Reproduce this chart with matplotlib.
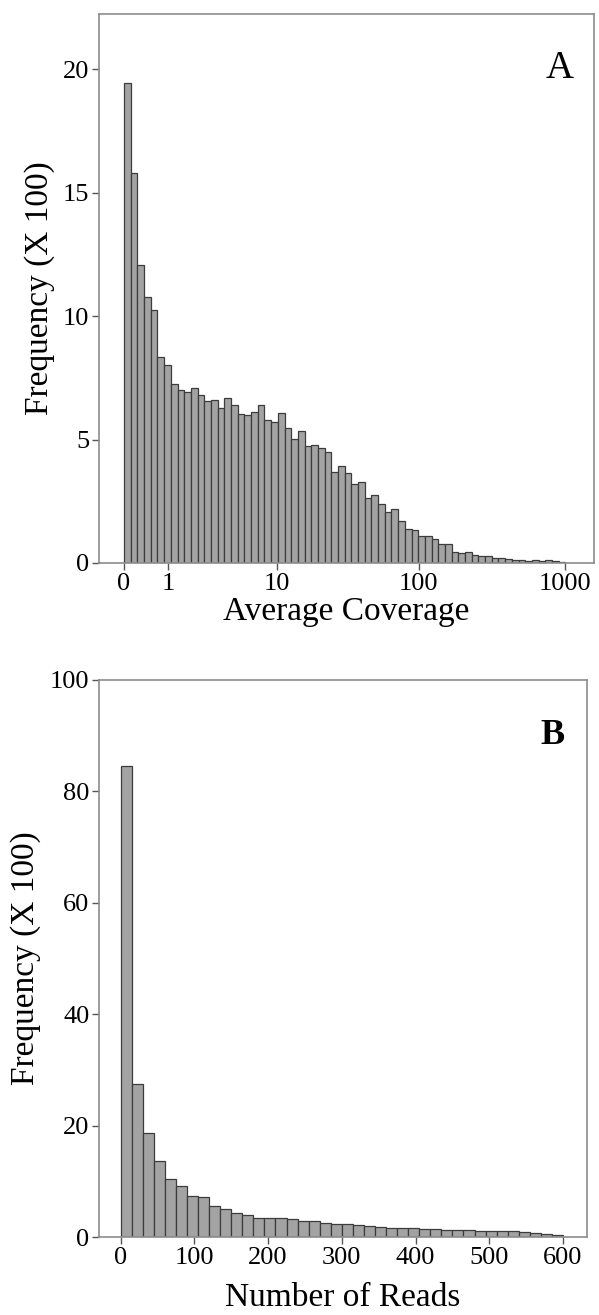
import numpy as np
import matplotlib.pyplot as plt

plt.rcParams['font.family'] = ['Liberation Serif', 'DejaVu Serif']

# Panel A: histogram of average coverage, bins equal in log10(coverage + 1)
cov_bin_width = 3.0 / 66
cov_freq = [19.44, 15.82, 12.08, 10.77, 10.26, 8.34, 8.03, 7.26, 7.01, 6.93,
            7.09, 6.81, 6.57, 6.61, 6.30, 6.68, 6.40, 6.04, 6.00, 6.13,
            6.40, 5.80, 5.73, 6.07, 5.46, 5.01, 5.36, 4.72, 4.78, 4.65,
            4.49, 3.70, 3.94, 3.66, 3.19, 3.30, 2.65, 2.76, 2.39, 2.08,
            2.18, 1.68, 1.38, 1.34, 1.09, 1.11, 0.96, 0.77, 0.76, 0.43,
            0.42, 0.43, 0.32, 0.30, 0.27, 0.22, 0.19, 0.15, 0.12, 0.10,
            0.09, 0.10, 0.09, 0.11, 0.07, 0.03]
cov_ticks = [0, 1, 10, 100, 1000]
cov_ticklabels = ["0", "1", "10", "100", "1000"]

# Panel B: histogram of number of reads
reads_bin_width = 15
reads_freq = [84.6, 27.4, 18.7, 13.6, 10.4, 9.1, 7.3, 7.2, 5.5, 5.0,
              4.3, 4.0, 3.5, 3.4, 3.4, 3.2, 2.9, 2.8, 2.6, 2.4,
              2.3, 2.1, 1.9, 1.8, 1.7, 1.7, 1.6, 1.5, 1.4, 1.3,
              1.3, 1.2, 1.1, 1.1, 1.0, 1.0, 0.9, 0.8, 0.6, 0.3]
reads_ticks = [0, 100, 200, 300, 400, 500, 600]

bar_face = "#a3a3a3"
bar_edge = "#3c3c3c"
frame = "#8c8c8c"

fig = plt.figure(figsize=(5.99, 13.15), dpi=100)
axA = fig.add_axes([0.1653, 0.5719, 0.8264, 0.4175])
axB = fig.add_axes([0.1653, 0.0593, 0.8147, 0.4236])

# panel A
left_a = np.arange(len(cov_freq)) * cov_bin_width
axA.bar(left_a, cov_freq, width=cov_bin_width, align="edge",
        color=bar_face, edgecolor=bar_edge, linewidth=0.9)
axA.set_xlim(-0.17, 3.195)
axA.set_ylim(0, 22.25)
axA.set_xticks(np.log10(np.array(cov_ticks) + 1))
axA.set_xticklabels(cov_ticklabels)
axA.set_yticks([0, 5, 10, 15, 20])
axA.set_xlabel("Average Coverage", fontsize=24, labelpad=1)
axA.set_ylabel("Frequency (X 100)", fontsize=24, labelpad=6)
axA.text(0.93, 0.9, "A", transform=axA.transAxes, fontsize=28,
         ha="center", va="center")

# panel B
left_b = np.arange(len(reads_freq)) * reads_bin_width
axB.bar(left_b, reads_freq, width=reads_bin_width, align="edge",
        color=bar_face, edgecolor=bar_edge, linewidth=0.9)
axB.set_xlim(-29.4, 632.6)
axB.set_ylim(0, 100)
axB.set_xticks(reads_ticks)
axB.set_yticks([0, 20, 40, 60, 80, 100])
axB.set_xlabel("Number of Reads", fontsize=24, labelpad=10)
axB.set_ylabel("Frequency (X 100)", fontsize=24, labelpad=6)
axB.text(0.93, 0.9, "B", transform=axB.transAxes, fontsize=26,
         fontweight="bold", ha="center", va="center")

for ax in (axA, axB):
    for s in ax.spines.values():
        s.set_color(frame)
        s.set_linewidth(1.2)
    ax.tick_params(axis="both", labelsize=19, length=5, width=1,
                   color="#555555", direction="out", pad=2)
    ax.tick_params(top=False, right=False)

fig.savefig("out.png", dpi=100)
